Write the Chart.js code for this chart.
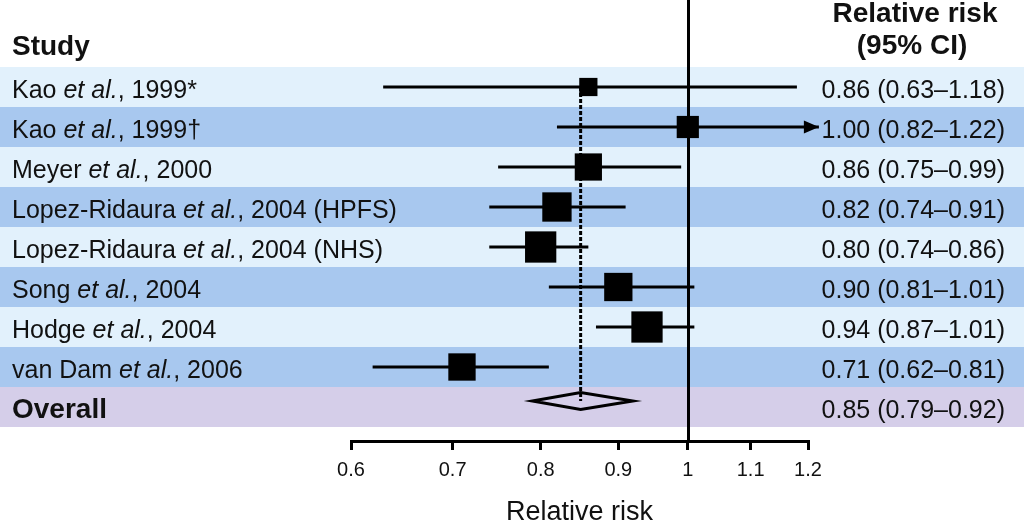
<!DOCTYPE html>
<html>
<head>
<meta charset="utf-8">
<script src="https://cdn.jsdelivr.net/npm/chart.js@4"></script>
<style>
  html, body { margin: 0; padding: 0; background: #fff; }
  #wrap { width: 1024px; height: 521px; }
</style>
</head>
<body>
<div id="wrap"><canvas id="forest" width="1024" height="521"></canvas></div>
<script>
  // study rows, top to bottom
  const studyAuthors = ["Kao", "Kao", "Meyer", "Lopez-Ridaura", "Lopez-Ridaura", "Song", "Hodge", "van Dam"];
  const studyTails = [", 1999*", ", 1999\u2020", ", 2000", ", 2004 (HPFS)", ", 2004 (NHS)", ", 2004", ", 2004", ", 2006"];
  const relRisk = [0.86, 1.00, 0.86, 0.82, 0.80, 0.90, 0.94, 0.71];
  const ciLow = [0.63, 0.82, 0.75, 0.74, 0.74, 0.81, 0.87, 0.62];
  const ciHigh = [1.18, 1.22, 0.99, 0.91, 0.86, 1.01, 1.01, 0.81];
  const studyWeights = [5.6, 8.3, 12.5, 14.5, 16.5, 13.5, 16.5, 12.6]; // % weight, square area

  const overallLabel = "Overall";
  const overallRR = 0.85;
  const overallLow = 0.79;
  const overallHigh = 0.92;

  const tickValues = [0.6, 0.7, 0.8, 0.9, 1, 1.1, 1.2];
  const tickLabels = ["0.6", "0.7", "0.8", "0.9", "1", "1.1", "1.2"];

  const FONT = "'Liberation Sans', Arial, Helvetica, sans-serif";
  const INK = "#111";
  const bandLight = "#e2f1fc";
  const bandDark = "#a8c8ef";
  const bandOverall = "#d5cee9";

  const nRows = studyAuthors.length + 1;
  const X_MIN = tickValues[0];
  const X_MAX = tickValues[tickValues.length - 1];

  const boxSide = (w) => 7.7 * Math.sqrt(w);
  const fmt = (v) => v.toFixed(2);
  const ciText = (rr, lo, hi) => `${fmt(rr)} (${fmt(lo)}\u2013${fmt(hi)})`;

  const ciSets = relRisk.map((_, i) => ({
    data: [
      { x: ciLow[i], y: i + 0.5 },
      { x: ciHigh[i], y: i + 0.5 },
    ],
    showLine: true,
    borderColor: "#000",
    borderWidth: 3,
    pointRadius: 0,
    clip: false,
    order: 1,
  }));

  const boxSet = {
    data: relRisk.map((v, i) => ({ x: v, y: i + 0.5 })),
    showLine: false,
    pointStyle: "rect",
    pointRadius: studyWeights.map((w) => boxSide(w) / Math.SQRT2),
    backgroundColor: "#000",
    borderWidth: 0,
    clip: false,
    order: 0,
  };

  const bandsPlugin = {
    id: "bands",
    beforeDraw(chart) {
      const { ctx, scales } = chart;
      const y = scales.y;
      ctx.save();
      for (let i = 0; i < nRows; i++) {
        const top = y.getPixelForValue(i);
        const bot = y.getPixelForValue(i + 1);
        ctx.fillStyle = i === nRows - 1 ? bandOverall : i % 2 === 0 ? bandLight : bandDark;
        ctx.fillRect(0, top, chart.width, bot - top);
      }
      ctx.restore();
    },
  };

  function diamondY(y) {
    return y.getPixelForValue(nRows - 0.5) - 6;
  }

  const guidesPlugin = {
    id: "guides",
    beforeDatasetsDraw(chart) {
      const { ctx, scales, chartArea } = chart;
      const x = scales.x;
      const y = scales.y;
      ctx.save();
      ctx.strokeStyle = "#000";
      // null line at RR = 1
      ctx.lineWidth = 3;
      const x1 = Math.round(x.getPixelForValue(1)) + 0.5;
      ctx.beginPath();
      ctx.moveTo(x1, 0);
      ctx.lineTo(x1, chartArea.bottom);
      ctx.stroke();
      // pooled estimate, dashed
      const xp = x.getPixelForValue(overallRR);
      ctx.lineWidth = 3;
      ctx.setLineDash([4, 2]);
      ctx.beginPath();
      ctx.moveTo(xp, y.getPixelForValue(0.5));
      ctx.lineTo(xp, diamondY(y));
      ctx.stroke();
      ctx.restore();
    },
    afterDatasetsDraw(chart) {
      const { ctx, scales } = chart;
      const x = scales.x;
      const y = scales.y;
      ctx.save();
      // overall diamond
      const yc = diamondY(y);
      ctx.strokeStyle = "#000";
      ctx.lineWidth = 3;
      ctx.beginPath();
      ctx.moveTo(x.getPixelForValue(overallLow), yc);
      ctx.lineTo(x.getPixelForValue(overallRR), yc - 8.5);
      ctx.lineTo(x.getPixelForValue(overallHigh), yc);
      ctx.lineTo(x.getPixelForValue(overallRR), yc + 8.5);
      ctx.closePath();
      ctx.stroke();
      // arrows for CIs running off the axis
      ctx.fillStyle = "#000";
      ciHigh.forEach((hi, i) => {
        if (hi <= X_MAX) return;
        const tip = x.getPixelForValue(hi);
        const yy = y.getPixelForValue(i + 0.5);
        ctx.beginPath();
        ctx.moveTo(tip, yy);
        ctx.lineTo(tip - 15, yy - 6.5);
        ctx.lineTo(tip - 15, yy + 6.5);
        ctx.closePath();
        ctx.fill();
      });
      ctx.restore();
    },
  };

  const textPlugin = {
    id: "columns",
    afterDraw(chart) {
      const { ctx, scales } = chart;
      const y = scales.y;
      ctx.save();
      ctx.fillStyle = INK;
      ctx.textBaseline = "alphabetic";

      // headers
      ctx.textAlign = "left";
      ctx.font = `bold 28px ${FONT}`;
      ctx.fillText("Study", 12, 55);
      ctx.textAlign = "center";
      ctx.font = `bold 28px ${FONT}`;
      ctx.fillText("Relative risk", 915, 22);
      ctx.fillText("(95% CI)", 912, 54);

      // study labels
      studyAuthors.forEach((name, i) => {
        const base = y.getPixelForValue(i + 0.5) + 11;
        let cx = 12;
        ctx.textAlign = "left";
        ctx.font = `25px ${FONT}`;
        ctx.fillText(name + " ", cx, base);
        cx += ctx.measureText(name + " ").width;
        ctx.font = `italic 25px ${FONT}`;
        ctx.fillText("et al.", cx, base);
        cx += ctx.measureText("et al.").width;
        ctx.font = `25px ${FONT}`;
        ctx.fillText(studyTails[i], cx, base);

        ctx.textAlign = "right";
        ctx.fillText(ciText(relRisk[i], ciLow[i], ciHigh[i]), 1005, base);
      });

      // overall row
      const ob = y.getPixelForValue(nRows - 0.5) + 11;
      ctx.textAlign = "left";
      ctx.font = `bold 28px ${FONT}`;
      ctx.fillText(overallLabel, 12, ob);
      ctx.textAlign = "right";
      ctx.font = `25px ${FONT}`;
      ctx.fillText(ciText(overallRR, overallLow, overallHigh), 1005, ob);
      ctx.restore();
    },
  };

  new Chart(document.getElementById("forest").getContext("2d"), {
    type: "scatter",
    data: { datasets: [boxSet, ...ciSets] },
    options: {
      responsive: false,
      animation: false,
      events: [],
      layout: { padding: { left: 351, right: 216, top: 67, bottom: 0 } },
      plugins: { legend: { display: false }, tooltip: { enabled: false } },
      scales: {
        x: {
          type: "logarithmic",
          min: X_MIN,
          max: X_MAX,
          afterBuildTicks: (axis) => {
            axis.ticks = tickValues.map((v) => ({ value: v }));
          },
          afterFit: (axis) => {
            axis.height = 80;
          },
          ticks: {
            autoSkip: false,
            maxRotation: 0,
            padding: 8,
            color: INK,
            font: { family: FONT, size: 20 },
            callback: (v) => {
              const k = tickValues.indexOf(v);
              return k >= 0 ? tickLabels[k] : "";
            },
          },
          grid: {
            drawOnChartArea: false,
            drawTicks: true,
            tickLength: 9,
            color: "#000",
            lineWidth: 3,
          },
          border: { display: true, color: "#000", width: 3 },
          title: {
            display: true,
            text: "Relative risk",
            color: INK,
            font: { family: FONT, size: 27, lineHeight: 0.6 },
            padding: 0,
          },
        },
        y: {
          type: "linear",
          min: 0,
          max: 9.35,
          reverse: true,
          display: false,
        },
      },
    },
    plugins: [bandsPlugin, guidesPlugin, textPlugin],
  });
</script>
</body>
</html>
